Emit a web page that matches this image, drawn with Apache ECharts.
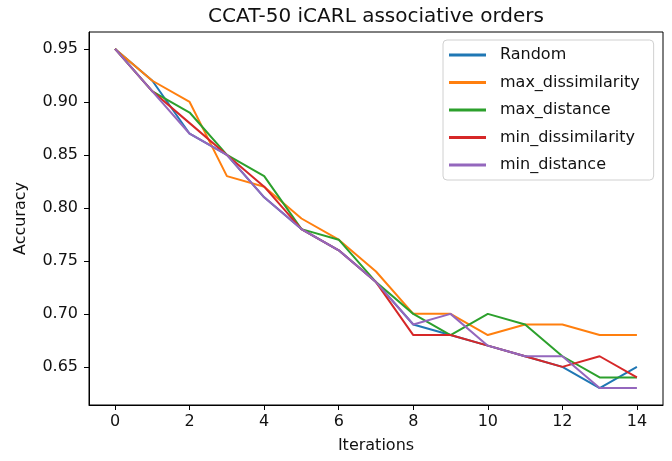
<!DOCTYPE html>
<html>
<head>
<meta charset="utf-8">
<script src="https://cdn.jsdelivr.net/npm/echarts@6/dist/echarts.min.js"></script>
<style>
  html, body { margin: 0; padding: 0; background: #fff; }
  #chart { width: 672px; height: 461px; }
</style>
</head>
<body>
<div id="chart"></div>
<script>
const iterations = [0, 1, 2, 3, 4, 5, 6, 7, 8, 9, 10, 11, 12, 13, 14];
const seriesNames = ['Random', 'max_dissimilarity', 'max_distance', 'min_dissimilarity', 'min_distance'];
const randomAcc        = [0.95, 0.92, 0.87, 0.85, 0.81, 0.78, 0.76, 0.73, 0.69, 0.68, 0.67, 0.66, 0.65, 0.63, 0.65];
const maxDissimilarity = [0.95, 0.92, 0.90, 0.83, 0.82, 0.79, 0.77, 0.74, 0.70, 0.70, 0.68, 0.69, 0.69, 0.68, 0.68];
const maxDistance      = [0.95, 0.91, 0.89, 0.85, 0.83, 0.78, 0.77, 0.73, 0.70, 0.68, 0.70, 0.69, 0.66, 0.64, 0.64];
const minDissimilarity = [0.95, 0.91, 0.88, 0.85, 0.82, 0.78, 0.76, 0.73, 0.68, 0.68, 0.67, 0.66, 0.65, 0.66, 0.64];
const minDistance      = [0.95, 0.91, 0.87, 0.85, 0.81, 0.78, 0.76, 0.73, 0.69, 0.70, 0.67, 0.66, 0.66, 0.63, 0.63];
const xTicks = [0, 2, 4, 6, 8, 10, 12, 14];
const yTicks = [0.65, 0.70, 0.75, 0.80, 0.85, 0.90, 0.95];

const allValues = [randomAcc, maxDissimilarity, maxDistance, minDissimilarity, minDistance];
const colors = ['#1f77b4', '#ff7f0e', '#2ca02c', '#d62728', '#9467bd'];
const FONT = 'DejaVu Sans';

const chart = echarts.init(document.getElementById('chart'), null, { renderer: 'canvas' });
chart.setOption({
  animation: false,
  backgroundColor: '#fff',
  color: colors,
  title: {
    text: 'CCAT-50 iCARL associative orders',
    left: 376, top: 7, textAlign: 'center', padding: 0,
    textStyle: { fontFamily: FONT, fontSize: 20, fontWeight: 'normal', color: '#111' }
  },
  grid: {
    left: 89, right: 9, top: 32, bottom: 56,
    show: true, borderColor: '#000', borderWidth: 1, backgroundColor: 'transparent'
  },
  legend: {
    orient: 'vertical', left: 443, top: 40,
    padding: [6, 14, 6, 6],
    itemWidth: 37, itemHeight: 3, itemGap: 9.5,
    icon: 'rect',
    backgroundColor: 'rgba(255,255,255,0.8)',
    borderColor: '#d0d0d0', borderWidth: 1, borderRadius: 4,
    textStyle: { fontFamily: FONT, fontSize: 16, color: '#111', padding: [0, 0, 0, 9], lineHeight: 18 },
    data: seriesNames
  },
  xAxis: {
    type: 'value', min: -0.7, max: 14.7,
    name: 'Iterations', nameLocation: 'middle', nameGap: 33,
    nameTextStyle: { fontFamily: FONT, fontSize: 16, color: '#111' },
    axisLine: { show: true, onZero: false, lineStyle: { color: '#000', width: 1 } },
    axisTick: { show: true, customValues: xTicks, length: 5, lineStyle: { color: '#000' } },
    axisLabel: { customValues: xTicks, margin: 9, fontFamily: FONT, fontSize: 16, color: '#111' },
    splitLine: { show: false }
  },
  yAxis: {
    type: 'value', min: 0.614, max: 0.966,
    name: 'Accuracy', nameLocation: 'middle', nameGap: 60, nameRotate: 90,
    nameTextStyle: { fontFamily: FONT, fontSize: 16, color: '#111' },
    axisLine: { show: true, onZero: false, lineStyle: { color: '#000', width: 1 } },
    axisTick: { show: true, customValues: yTicks, length: 5, lineStyle: { color: '#000' } },
    axisLabel: { customValues: yTicks, margin: 11, fontFamily: FONT, fontSize: 16, color: '#111',
      formatter: v => v.toFixed(2) },
    splitLine: { show: false }
  },
  series: seriesNames.map((name, i) => ({
    name: name,
    type: 'line',
    data: iterations.map((x, j) => [x, allValues[i][j]]),
    showSymbol: false,
    symbol: 'none',
    lineStyle: { width: 2, color: colors[i] },
    itemStyle: { color: colors[i] },
    z: 2 + i
  }))
});
</script>
</body>
</html>
